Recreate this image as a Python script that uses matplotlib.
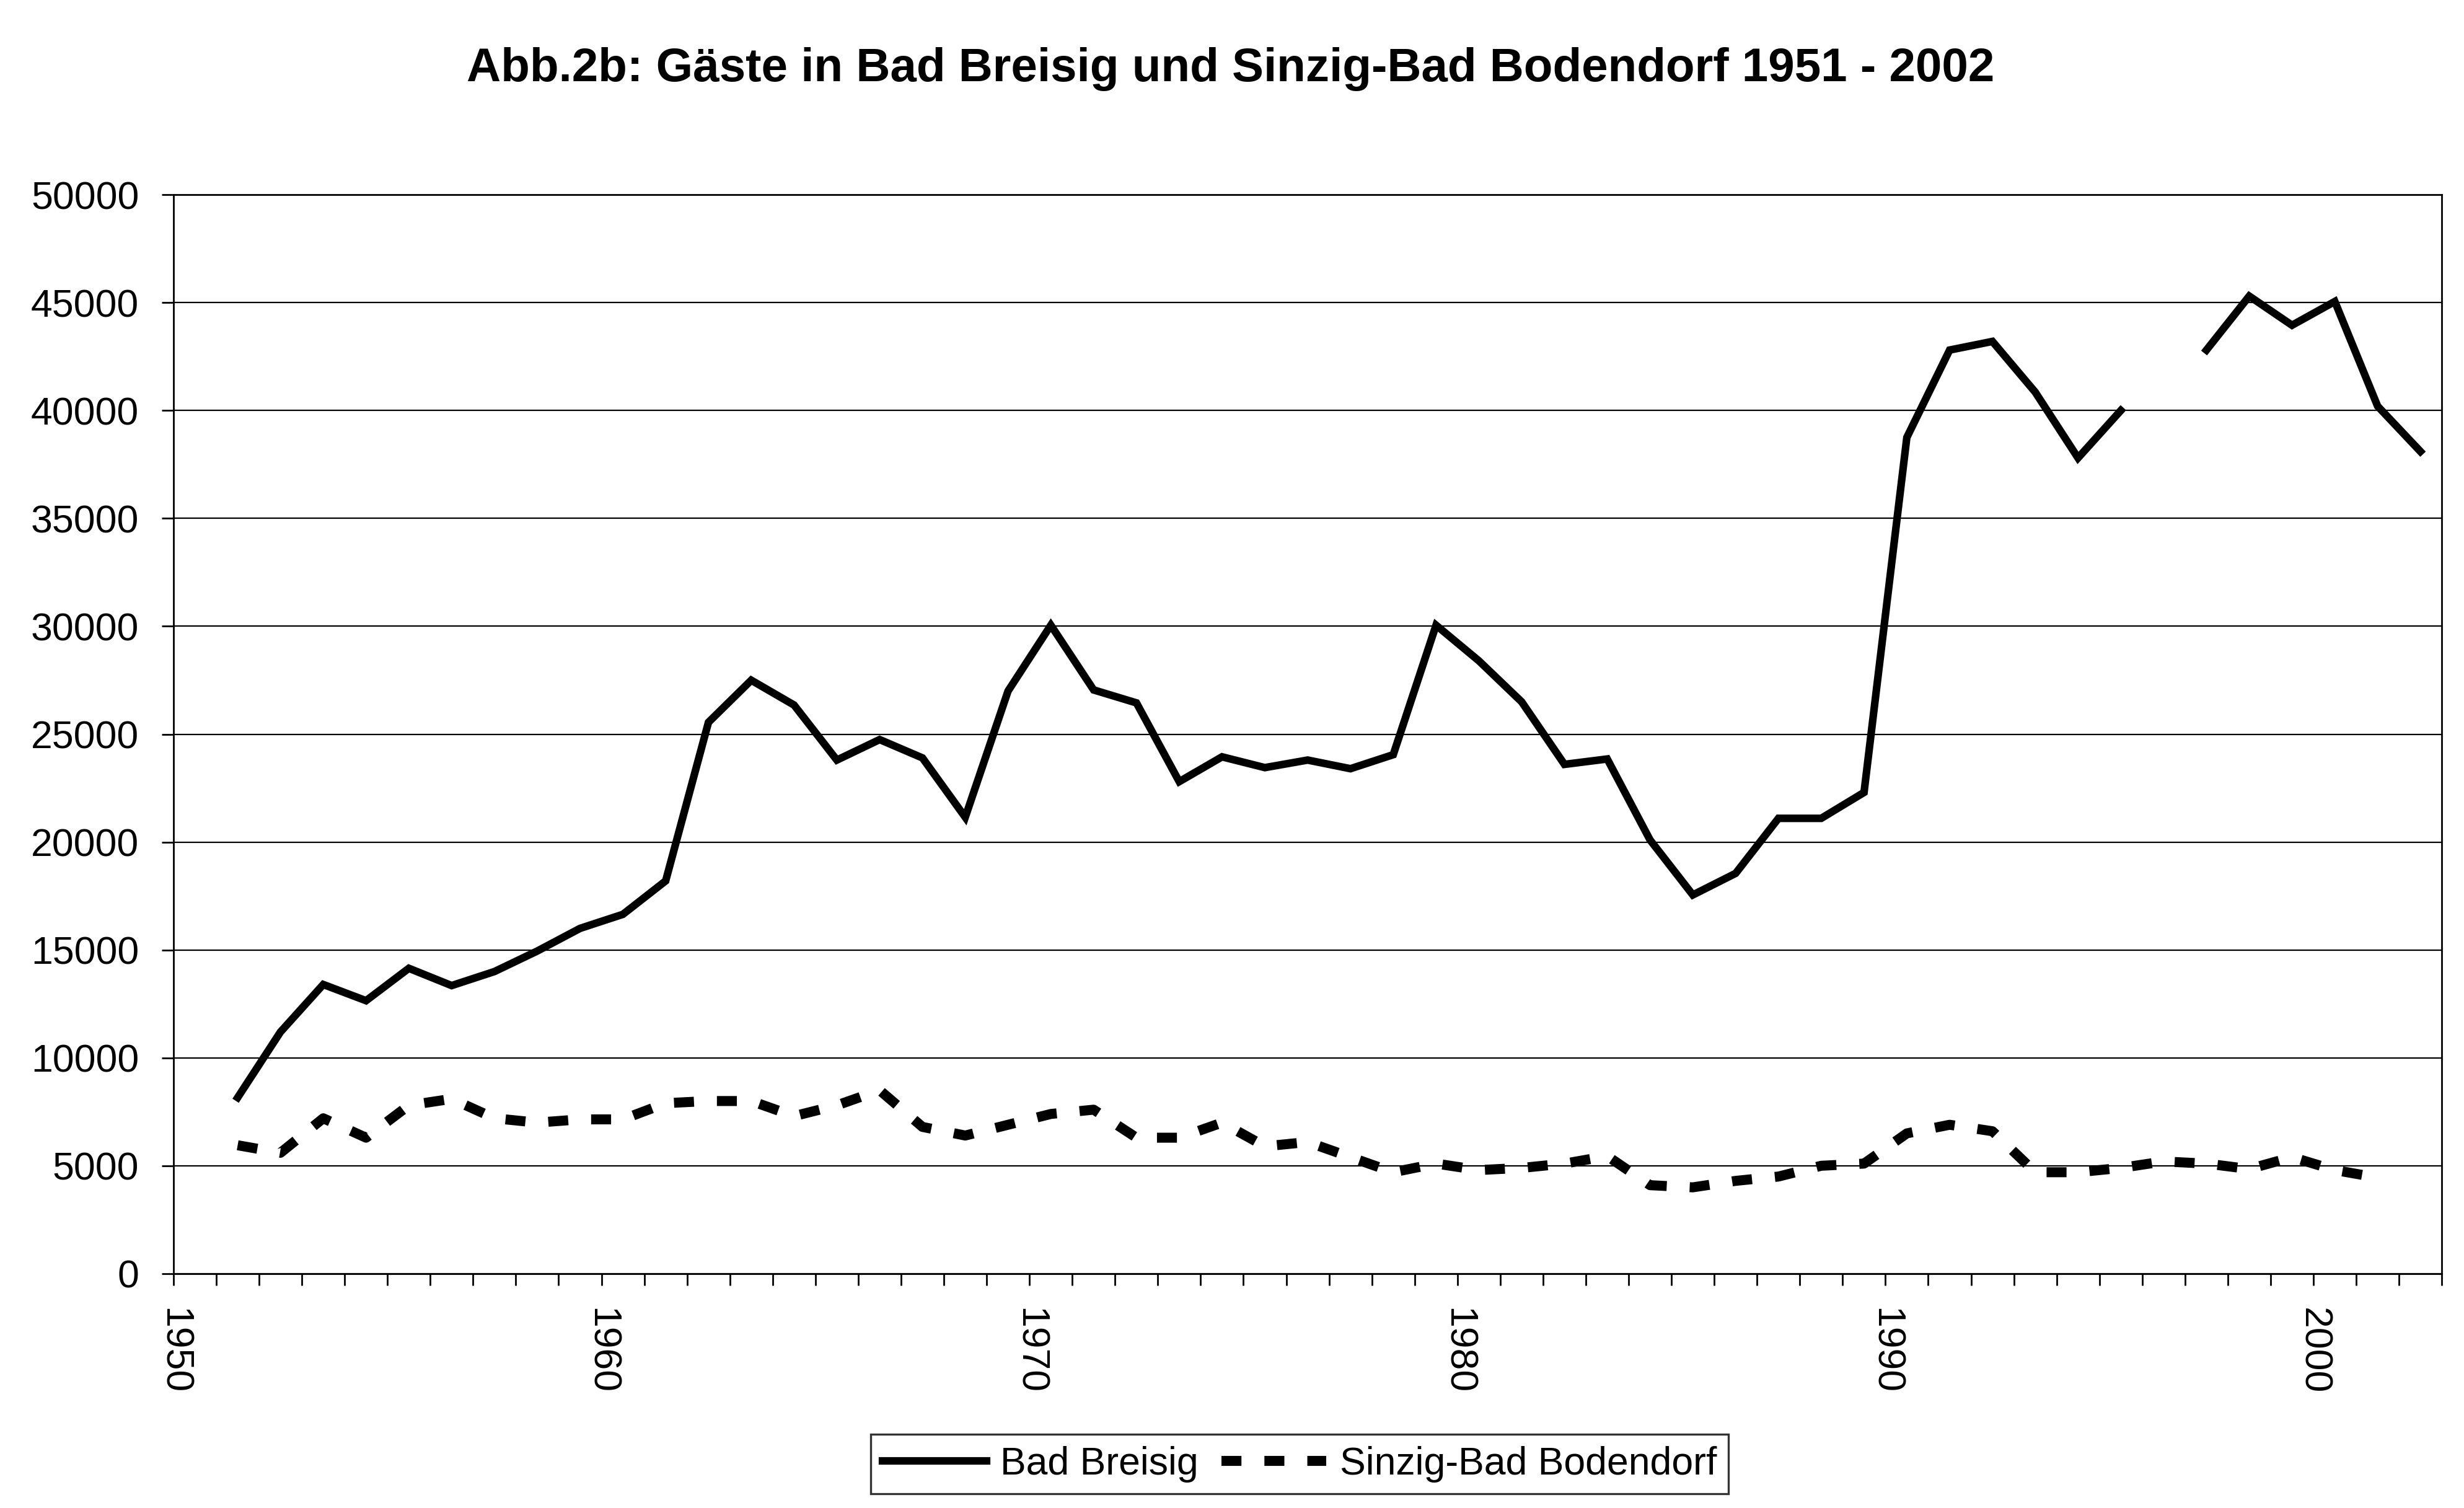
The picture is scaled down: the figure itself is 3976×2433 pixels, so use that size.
import numpy as np
import matplotlib
matplotlib.use("Agg")
import matplotlib.pyplot as plt
from matplotlib.ticker import MultipleLocator, FixedLocator

plt.rcParams['font.family'] = ['Liberation Sans', 'DejaVu Sans']

# Jahre und Gaestezahlen
years = list(range(1951, 2003))
breisig = [8160, 11200, 13400, 12650, 14150, 13350, 14000, 14950, 16000, 16650,
           18200, 25550, 27500, 26350, 23800, 24750, 23900, 21150, 27000, 30050,
           27050, 26450, 22800, 23950, 23450, 23800, 23400, 24050, 30050, 28400,
           26500, 23600, 23850, 20100, 17550, 18550, 21100, 21100, 22300, 38750,
           42800, 43200, 40850, 37800, 40000, np.nan, 42800, 45300, 43950, 45050,
           40200, 38100]
sinzig = [5950, 5600, 7200, 6300, 7800, 8100, 7200, 7000, 7150, 7150,
          7900, 8000, 8000, 7300, 7800, 8500, 6800, 6400, 6900, 7400,
          7600, 6300, 6300, 7000, 5900, 6100, 5400, 4700, 5100, 4800,
          4900, 5100, 5450, 4100, 4000, 4300, 4500, 5000, 5100, 6500,
          6900, 6600, 4700, 4700, 4900, 5200, 5100, 4850, 5400, 4800,
          4450, np.nan]

title = "Abb.2b: Gäste in Bad Breisig und Sinzig-Bad Bodendorf 1951 - 2002"

fig = plt.figure(figsize=(19.88, 12.165), dpi=200)
ax = fig.add_axes([0.0704, 0.1554, 0.9206, 0.7155])

# Kategorienachse: Werte sitzen in der Mitte zwischen den Jahres-Ticks
xs = np.array(years) + 0.5
ax.plot(xs, breisig, color='black', lw=4.4, solid_joinstyle='miter',
        label='Bad Breisig')
ax.plot(xs, sinzig, color='black', lw=5.8, dashes=(2.0, 2.3),
        dash_capstyle='butt', label='Sinzig-Bad Bodendorf')

ax.set_xlim(1950, 2003)
ax.set_ylim(0, 50000)
ax.yaxis.set_major_locator(MultipleLocator(5000))
ax.xaxis.set_major_locator(FixedLocator([1950, 1960, 1970, 1980, 1990, 2000]))
ax.xaxis.set_minor_locator(MultipleLocator(1))
ax.grid(axis='y', color='black', lw=0.8)
ax.set_axisbelow(True)

for s in ax.spines.values():
    s.set_linewidth(1.0)
    s.set_color('black')

ax.tick_params(axis='y', which='both', direction='out', length=7, width=1.0,
               labelsize=22.5, pad=13)
ax.tick_params(axis='x', which='both', direction='out', length=7, width=1.0,
               labelsize=22.5, pad=13)
plt.setp(ax.get_xticklabels(), rotation=-90)

fig.text(0.4995, 0.954, title, ha='center', va='center', fontsize=27.5,
         fontweight='bold')

leg = fig.legend(loc='center', bbox_to_anchor=(0.5274, 0.0291), ncol=2,
                 fontsize=22.5, frameon=True, fancybox=False, handlelength=2.7,
                 handletextpad=0.35, columnspacing=0.6, borderpad=0.3,
                 borderaxespad=0)
leg.get_frame().set_edgecolor('black')
leg.get_frame().set_linewidth(1.2)

fig.savefig('out.png', dpi=200, facecolor='white')
